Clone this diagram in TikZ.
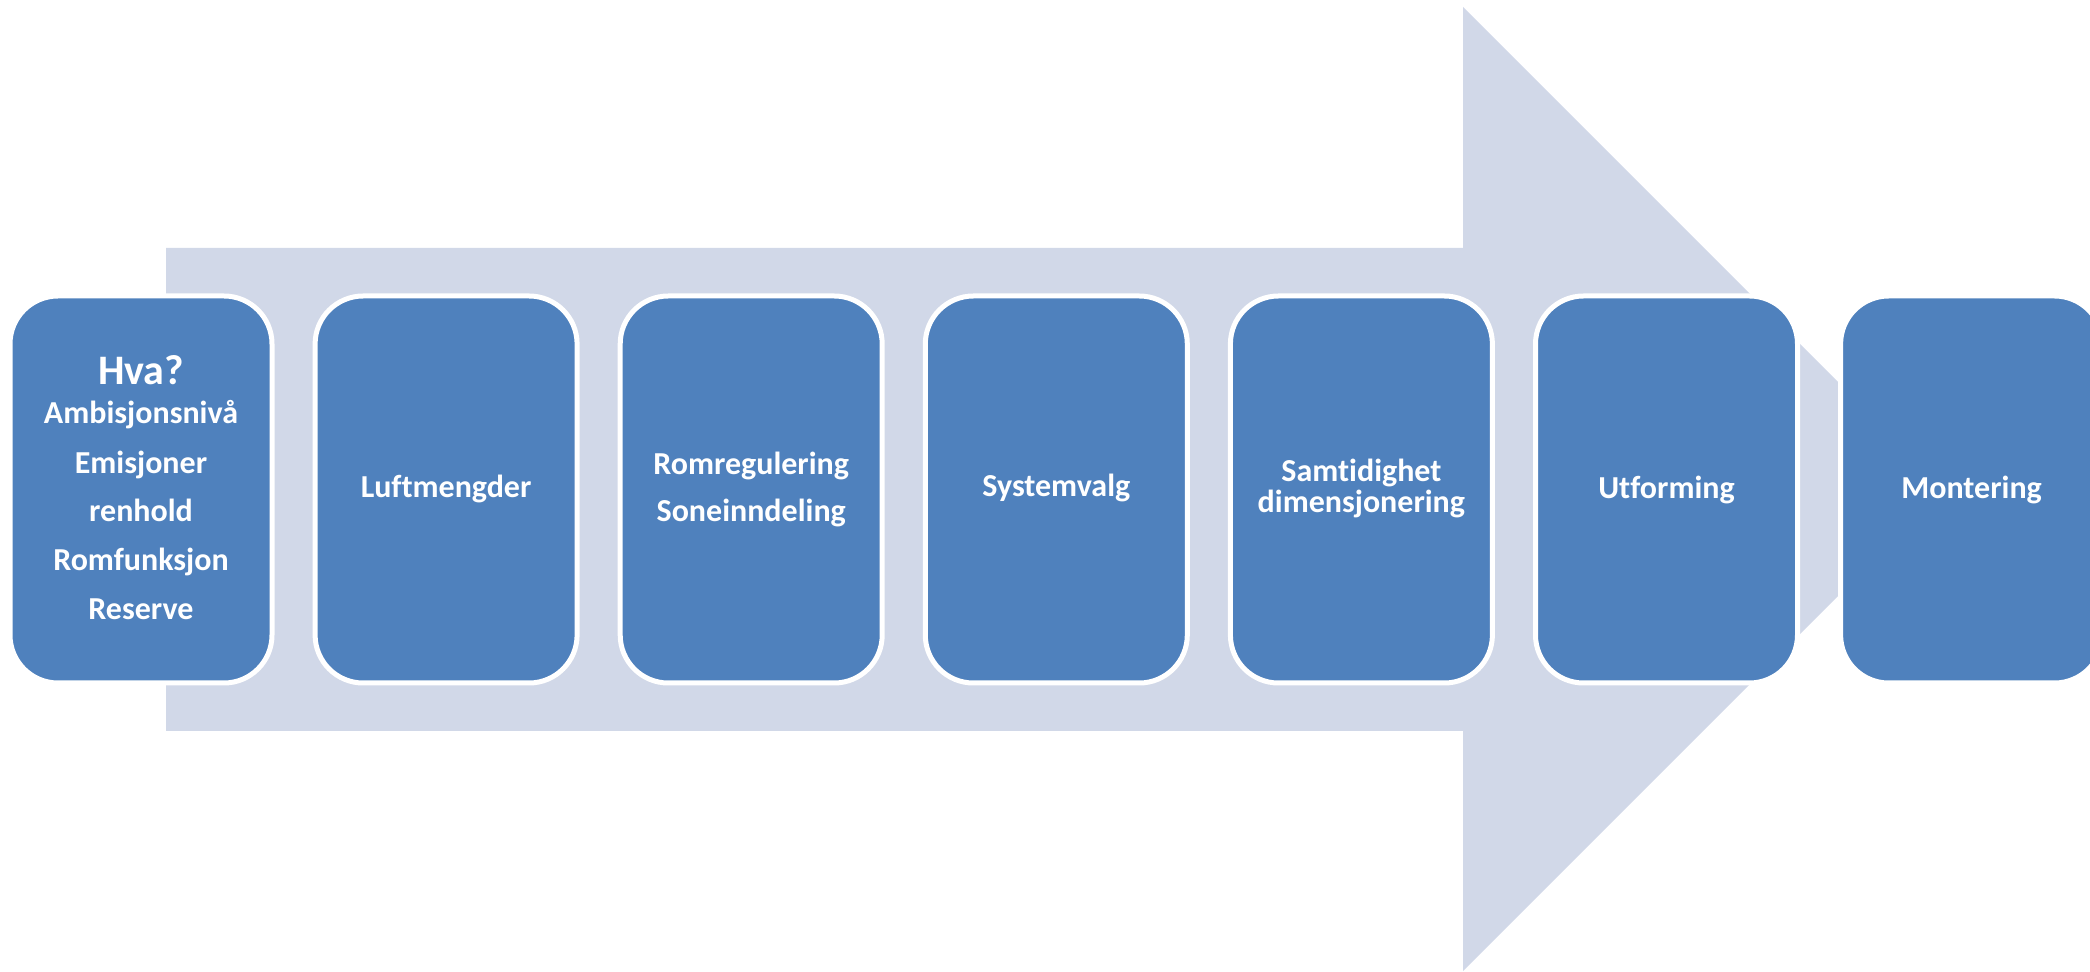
\documentclass[tikz,border=0pt]{standalone}
\usepackage{fontspec}
\setmainfont[Ligatures={NoCommon}]{Carlito}
\definecolor{arrowfill}{RGB}{209,216,232}
\definecolor{boxfill}{RGB}{79,129,189}
\begin{document}
\begin{tikzpicture}[x=0.5pt,y=-0.5pt,
  stepbox/.style={draw=white, line width=2.5pt, fill=boxfill, rounded corners=24pt,
    minimum width=131pt, minimum height=193.5pt, inner sep=0pt, anchor=center},
  txt/.style={text=white, font=\bfseries\fontsize{16pt}{19pt}\selectfont, anchor=base, inner sep=0pt},
  txtsmall/.style={text=white, font=\bfseries\fontsize{16pt}{19pt}\selectfont, anchor=base, inner sep=0pt},
  txtbig/.style={text=white, font=\bfseries\fontsize{21pt}{25pt}\selectfont, anchor=base, inner sep=0pt}]
\useasboundingbox (0,0) rectangle (2090,972);
% big arrow
\fill[arrowfill] (166,248) -- (1463,248) -- (1463,7) -- (1945,489) -- (1463,971) -- (1463,731) -- (166,731) -- cycle;
% boxes
\foreach \i in {1,...,7}{
  \node[stepbox] (b\i) at ({141+305.1*(\i-1)},489.5) {};
}
% texts
\node[txtbig]   (t1a) at (b1.center |- 0,385) {Hva?};
\node[txtsmall] (t1b) at (b1.center |- 0,424) {Ambisjonsnivå};
\node[txtsmall] (t1c) at (b1.center |- 0,474) {Emisjoner};
\node[txtsmall] (t1d) at (b1.center |- 0,522) {renhold};
\node[txtsmall] (t1e) at (b1.center |- 0,571) {Romfunksjon};
\node[txtsmall] (t1f) at (b1.center |- 0,620) {Reserve};
\node[txt] (t2) at (b2.center |- 0,498) {Luftmengder};
\node[txt] (t3a) at (b3.center |- 0,475) {Romregulering};
\node[txt] (t3b) at (b3.center |- 0,522) {Soneinndeling};
\node[txt] (t4) at (b4.center |- 0,497) {Systemvalg};
\node[txt] (t5a) at (b5.center |- 0,482) {Samtidighet};
\node[txt] (t5b) at (b5.center |- 0,513) {dimensjonering};
\node[txt] (t6) at (b6.center |- 0,499) {Utforming};
\node[txt] (t7) at (b7.center |- 0,499) {Montering};
\end{tikzpicture}
\end{document}
